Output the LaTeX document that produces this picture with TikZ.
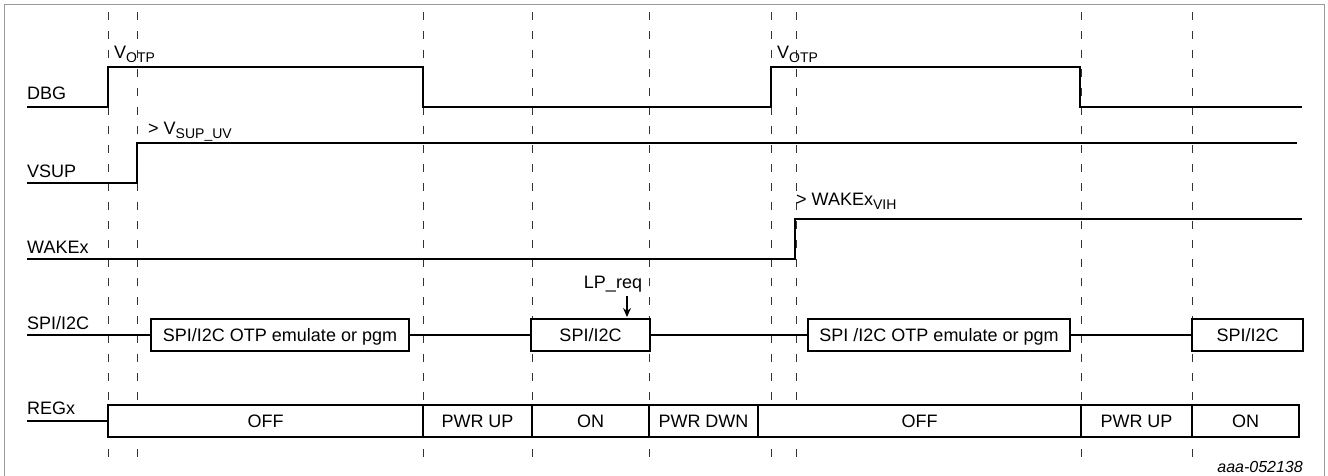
\documentclass[tikz,border=0pt]{standalone}
\usepackage{fontspec}
\setmainfont{Liberation Sans}
\usetikzlibrary{arrows.meta,positioning}

\tikzset{
  sig/.style={line width=2.8pt, line join=miter},
  guide/.style={line width=1pt, black!80, dash pattern=on 8pt off 11pt},
  busbox/.style={draw, line width=2.8pt, fill=white, inner sep=0pt, outer sep=0pt,
    minimum height=32pt, text height=13pt, text depth=0pt, anchor=west},
  lbl/.style={anchor=base west, inner sep=0pt},
}
\newcommand{\sbs}[1]{\raisebox{-4pt}{\fontsize{14}{14}\selectfont #1}}

\begin{document}
\begin{tikzpicture}[x=1pt, y=-1pt, font=\fontsize{18}{21}\selectfont]
\useasboundingbox (0,0) rectangle (1328,475);

% Frame
\draw[black!40, line width=1pt] (4,476) -- (4,4) -- (1324,4) -- (1324,476);

% Time markers
\foreach \x in {108,137,423,532,649,771,796,1081,1192}
  \draw[guide] (\x,12) -- (\x,458);

% Signal names
\node[lbl] (nDBG) at (27,99) {DBG};
\node[lbl] (nVSUP) at (27,177) {VSUP};
\node[lbl] (nWAKE) at (27,253) {WAKEx};
\node[lbl] (nSPI) at (27,329) {SPI/I2C};
\node[lbl] (nREG) at (27,414) {REGx};

% DBG
\draw[sig] (27,107) -- (108,107) -- (108,67) -- (423,67) -- (423,107)
  -- (771,107) -- (771,67) -- (1080,67) -- (1080,107) -- (1302,107);
\node[lbl] (votpA) at (114,58) {V\sbs{OTP}};
\node[lbl] (votpB) at (777,58) {V\sbs{OTP}};

% VSUP
\draw[sig] (27,183) -- (137,183) -- (137,143) -- (1297,143);
\node[lbl] (vsupuv) at (148,134) {> V\sbs{SUP\_UV}};

% WAKEx
\draw[sig] (27,259) -- (795,259) -- (795,219) -- (1302,219);
\node[lbl] (wakevih) at (796,205) {> WAKEx\sbs{VIH}};

% SPI/I2C
\node[busbox, minimum width=258pt] (spiA) at (151,335) {SPI/I2C OTP emulate or pgm};
\node[busbox, minimum width=119pt] (spiB) at (531,335) {SPI/I2C};
\node[busbox, minimum width=262pt] (spiC) at (808,335) {SPI /I2C OTP emulate or pgm};
\node[busbox, minimum width=111pt] (spiD) at (1192,335) {SPI/I2C};
\draw[sig] (27,335) -- (spiA.west);
\draw[sig] (spiA.east) -- (spiB.west);
\draw[sig] (spiB.east) -- (spiC.west);
\draw[sig] (spiC.east) -- (spiD.west);

% LP_req
\node[anchor=base, inner sep=0pt] (lpreq) at (613,288) {LP\_req};
\coordinate (lpend) at (627,317);
\draw[-{Stealth[length=9pt, width=8pt]}, line width=1.2pt] (627,296) -- (lpend);

% REGx
\node[busbox, minimum width=315pt] (regA) at (108,421) {OFF};
\node[busbox, minimum width=109pt, right=0pt of regA] (regB) {PWR UP};
\node[busbox, minimum width=117pt, right=0pt of regB] (regC) {ON};
\node[busbox, minimum width=109pt, right=0pt of regC] (regD) {PWR DWN};
\node[busbox, minimum width=323pt, right=0pt of regD] (regE) {OFF};
\node[busbox, minimum width=111pt, right=0pt of regE] (regF) {PWR UP};
\node[busbox, minimum width=107pt, right=0pt of regF] (regG) {ON};
\draw[sig] (27,421) -- (regA.west);

% Figure id
\node[anchor=base east, inner sep=0pt, font=\fontsize{16}{18}\selectfont\itshape] (figid) at (1303,472) {aaa-052138};

\end{tikzpicture}
\end{document}
